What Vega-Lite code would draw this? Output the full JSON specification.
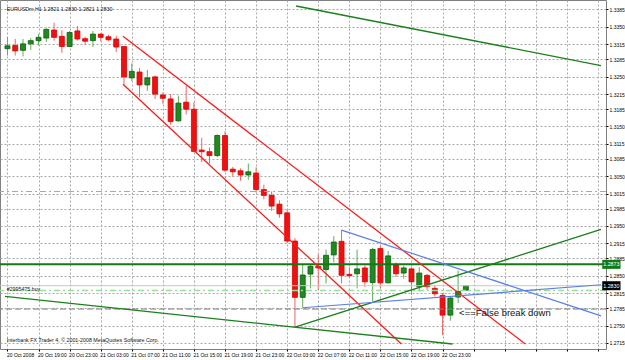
{
  "$schema": "https://vega.github.io/schema/vega-lite/v6.json",
  "width": 606,
  "height": 349,
  "autosize": {"type": "none"},
  "padding": {"left": 0, "top": 0, "right": 19, "bottom": 11},
  "background": "white",
  "config": {
    "view": {"stroke": "#808080", "strokeWidth": 1},
    "font": "Liberation Sans"
  },
  "datasets": {
    "candles": [
      {"i":0,"o":1.33062,"h":1.33296,"l":1.32925,"c":1.33120},
      {"i":1,"o":1.33126,"h":1.33257,"l":1.32925,"c":1.33017},
      {"i":2,"o":1.33029,"h":1.33257,"l":1.32906,"c":1.33159},
      {"i":3,"o":1.33159,"h":1.33276,"l":1.33042,"c":1.33224},
      {"i":4,"o":1.33224,"h":1.33355,"l":1.33126,"c":1.33290},
      {"i":5,"o":1.33276,"h":1.33470,"l":1.33198,"c":1.33452},
      {"i":6,"o":1.33438,"h":1.33583,"l":1.33224,"c":1.33290},
      {"i":7,"o":1.33310,"h":1.33433,"l":1.32978,"c":1.33107},
      {"i":8,"o":1.33107,"h":1.33419,"l":1.33095,"c":1.33388},
      {"i":9,"o":1.33419,"h":1.33517,"l":1.33224,"c":1.33257},
      {"i":10,"o":1.33263,"h":1.33302,"l":1.33146,"c":1.33212},
      {"i":11,"o":1.33224,"h":1.33419,"l":1.33095,"c":1.33355},
      {"i":12,"o":1.33355,"h":1.33368,"l":1.33212,"c":1.33290},
      {"i":13,"o":1.33302,"h":1.33341,"l":1.33212,"c":1.33243},
      {"i":14,"o":1.33257,"h":1.33321,"l":1.32997,"c":1.33095},
      {"i":15,"o":1.33107,"h":1.33107,"l":1.32346,"c":1.32496},
      {"i":16,"o":1.32476,"h":1.32769,"l":1.32412,"c":1.32607},
      {"i":17,"o":1.32593,"h":1.32671,"l":1.32086,"c":1.32334},
      {"i":18,"o":1.32334,"h":1.32638,"l":1.32217,"c":1.32476},
      {"i":19,"o":1.32496,"h":1.32521,"l":1.32053,"c":1.32150},
      {"i":20,"o":1.32131,"h":1.32184,"l":1.31955,"c":1.32066},
      {"i":21,"o":1.32053,"h":1.32150,"l":1.31534,"c":1.31598},
      {"i":22,"o":1.31612,"h":1.32119,"l":1.31598,"c":1.31969},
      {"i":23,"o":1.31988,"h":1.32314,"l":1.31741,"c":1.31846},
      {"i":24,"o":1.31846,"h":1.31988,"l":1.30979,"c":1.30999},
      {"i":25,"o":1.31026,"h":1.31272,"l":1.30784,"c":1.30993},
      {"i":26,"o":1.30993,"h":1.31077,"l":1.30753,"c":1.30915},
      {"i":27,"o":1.30915,"h":1.31339,"l":1.30882,"c":1.31319},
      {"i":28,"o":1.31319,"h":1.31403,"l":1.30589,"c":1.30622},
      {"i":29,"o":1.30642,"h":1.30687,"l":1.30492,"c":1.30589},
      {"i":30,"o":1.30609,"h":1.30656,"l":1.30408,"c":1.30525},
      {"i":31,"o":1.30525,"h":1.30753,"l":1.30427,"c":1.30589},
      {"i":32,"o":1.30564,"h":1.30681,"l":1.30173,"c":1.30232},
      {"i":33,"o":1.30232,"h":1.30330,"l":1.30037,"c":1.30115},
      {"i":34,"o":1.30115,"h":1.30193,"l":1.29803,"c":1.29900},
      {"i":35,"o":1.29939,"h":1.30017,"l":1.29666,"c":1.29744},
      {"i":36,"o":1.29764,"h":1.29822,"l":1.29159,"c":1.29198},
      {"i":37,"o":1.29198,"h":1.29256,"l":1.27467,"c":1.28066},
      {"i":38,"o":1.28066,"h":1.28735,"l":1.27857,"c":1.28515},
      {"i":39,"o":1.28534,"h":1.28735,"l":1.28247,"c":1.28690},
      {"i":40,"o":1.28690,"h":1.28930,"l":1.28216,"c":1.28657},
      {"i":41,"o":1.28626,"h":1.29028,"l":1.28345,"c":1.28911},
      {"i":42,"o":1.28919,"h":1.29295,"l":1.28768,"c":1.29178},
      {"i":43,"o":1.29192,"h":1.29418,"l":1.28345,"c":1.28509},
      {"i":44,"o":1.28528,"h":1.28671,"l":1.28476,"c":1.28501},
      {"i":45,"o":1.28540,"h":1.29028,"l":1.28247,"c":1.28638},
      {"i":46,"o":1.28657,"h":1.28710,"l":1.28280,"c":1.28378},
      {"i":47,"o":1.28364,"h":1.29061,"l":1.27988,"c":1.29028},
      {"i":48,"o":1.29047,"h":1.29094,"l":1.28247,"c":1.28358},
      {"i":49,"o":1.28358,"h":1.28997,"l":1.28345,"c":1.28899},
      {"i":50,"o":1.28723,"h":1.28768,"l":1.28476,"c":1.28540},
      {"i":51,"o":1.28554,"h":1.28704,"l":1.28442,"c":1.28657},
      {"i":52,"o":1.28638,"h":1.28671,"l":1.28118,"c":1.28378},
      {"i":53,"o":1.28280,"h":1.28671,"l":1.28183,"c":1.28554},
      {"i":54,"o":1.28509,"h":1.28540,"l":1.28216,"c":1.28280},
      {"i":55,"o":1.28247,"h":1.28314,"l":1.28085,"c":1.28138},
      {"i":56,"o":1.28105,"h":1.28150,"l":1.27305,"c":1.27709},
      {"i":57,"o":1.27709,"h":1.28085,"l":1.27597,"c":1.28052},
      {"i":58,"o":1.28072,"h":1.28606,"l":1.27954,"c":1.28183},
      {"i":59,"o":1.28210,"h":1.28300,"l":1.28210,"c":1.28300}
    ],
    "redlines": [
      {"i1":14.87,"p1":1.33310,"i2":66.65,"p2":1.27129},
      {"i1":14.87,"p1":1.32346,"i2":50.7,"p2":1.27129}
    ],
    "greenlines": [
      {"i1":37.15,"p1":1.33920,"i2":76.39,"p2":1.32724},
      {"i1":37.0,"p1":1.27467,"i2":76.39,"p2":1.29432},
      {"i1":-0.316,"p1":1.28085,"i2":57.28,"p2":1.27129}
    ],
    "bluelines": [
      {"i1":43,"p1":1.29418,"i2":76.39,"p2":1.27695},
      {"i1":38,"p1":1.27857,"i2":76.39,"p2":1.28319}
    ]
  },
  "layer": [
    {
      "data": {"name": "candles"},
      "mark": {"type": "rule", "strokeWidth": 1},
      "encoding": {
        "x": {"field": "i", "type": "quantitative", "title": null, "scale": {"domain": [-0.316, 76.39], "nice": false, "zero": false},
          "axis": {"orient": "bottom", "values": [0,4,8,12,16,20,24,28,32,36,40,44,48,52,56,60,64,68,72,76], "labelExpr": "datum.value <= 56 ? ['20 Oct 2008','20 Oct 19:00','20 Oct 23:00','21 Oct 03:00','21 Oct 07:00','21 Oct 11:00','21 Oct 15:00','21 Oct 19:00','21 Oct 23:00','22 Oct 03:00','22 Oct 07:00','22 Oct 11:00','22 Oct 15:00','22 Oct 19:00','22 Oct 23:00'][round(datum.value/4)] : ''", "labelAlign": "left", "labelOffset": -1, "labelFontSize": 5, "labelColor": "#000", "labelPadding": 1, "tickSize": 2, "tickColor": "#000", "grid": true, "gridColor": "#a8a8a8", "gridDash": [2, 2], "domain": false, "title": null, "labelOverlap": false, "labelBound": false, "labelFlush": false}},
        "y": {"field": "h", "type": "quantitative", "title": null, "scale": {"domain": [1.27129, 1.3394], "nice": false, "zero": false},
          "axis": {"orient": "right", "values": [1.2715,1.2750,1.2785,1.2815,1.2850,1.2885,1.2915,1.2950,1.2985,1.3015,1.3050,1.3085,1.3115,1.3150,1.3185,1.3215,1.3250,1.3285,1.3315,1.3350,1.3385], "format": ".4f", "labelFontSize": 5, "labelColor": "#000", "labelPadding": 1, "tickSize": 2, "tickColor": "#000", "grid": true, "gridColor": "#a8a8a8", "gridDash": [2, 2], "domain": false, "title": null, "labelOverlap": false, "labelBound": false, "labelFlush": false}},
        "y2": {"field": "l"},
        "color": {"condition": {"test": "datum.c >= datum.o", "value": "#5cae5c"}, "value": "#f06464"}
      }
    },
    {
      "data": {"name": "candles"},
      "mark": {"type": "bar", "size": 5, "strokeWidth": 0.8, "orient": "vertical"},
      "encoding": {
        "x": {"field": "i", "type": "quantitative", "title": null, "scale": {"domain": [-0.316, 76.39], "nice": false, "zero": false},
          "axis": {"orient": "bottom", "values": [0,4,8,12,16,20,24,28,32,36,40,44,48,52,56,60,64,68,72,76], "labelExpr": "datum.value <= 56 ? ['20 Oct 2008','20 Oct 19:00','20 Oct 23:00','21 Oct 03:00','21 Oct 07:00','21 Oct 11:00','21 Oct 15:00','21 Oct 19:00','21 Oct 23:00','22 Oct 03:00','22 Oct 07:00','22 Oct 11:00','22 Oct 15:00','22 Oct 19:00','22 Oct 23:00'][round(datum.value/4)] : ''", "labelAlign": "left", "labelOffset": -1, "labelFontSize": 5, "labelColor": "#000", "labelPadding": 1, "tickSize": 2, "tickColor": "#000", "grid": true, "gridColor": "#a8a8a8", "gridDash": [2, 2], "domain": false, "title": null, "labelOverlap": false, "labelBound": false, "labelFlush": false}},
        "y": {"field": "o", "type": "quantitative", "title": null, "scale": {"domain": [1.27129, 1.3394], "nice": false, "zero": false},
          "axis": {"orient": "right", "values": [1.2715,1.2750,1.2785,1.2815,1.2850,1.2885,1.2915,1.2950,1.2985,1.3015,1.3050,1.3085,1.3115,1.3150,1.3185,1.3215,1.3250,1.3285,1.3315,1.3350,1.3385], "format": ".4f", "labelFontSize": 5, "labelColor": "#000", "labelPadding": 1, "tickSize": 2, "tickColor": "#000", "grid": true, "gridColor": "#a8a8a8", "gridDash": [2, 2], "domain": false, "title": null, "labelOverlap": false, "labelBound": false, "labelFlush": false}},
        "y2": {"field": "c"},
        "fill": {"condition": {"test": "datum.c >= datum.o", "value": "#1f8a1f"}, "value": "#ee1111"},
        "stroke": {"condition": {"test": "datum.c >= datum.o", "value": "#0b5e0b"}, "value": "#e00000"}
      }
    },
    {
      "data": {"values": [{"p": 1.30193}]},
      "mark": {"type": "rule", "color": "#a8a8a8", "strokeWidth": 1, "strokeDash": [6, 3, 2, 3]},
      "encoding": {"y": {"field": "p", "type": "quantitative", "title": null, "scale": {"domain": [1.27129, 1.3394], "nice": false, "zero": false},
          "axis": {"orient": "right", "values": [1.2715,1.2750,1.2785,1.2815,1.2850,1.2885,1.2915,1.2950,1.2985,1.3015,1.3050,1.3085,1.3115,1.3150,1.3185,1.3215,1.3250,1.3285,1.3315,1.3350,1.3385], "format": ".4f", "labelFontSize": 5, "labelColor": "#000", "labelPadding": 1, "tickSize": 2, "tickColor": "#000", "grid": true, "gridColor": "#a8a8a8", "gridDash": [2, 2], "domain": false, "title": null, "labelOverlap": false, "labelBound": false, "labelFlush": false}}}
    },
    {
      "data": {"values": [{"p": 1.27831}]},
      "mark": {"type": "rule", "color": "#808080", "strokeWidth": 1, "strokeDash": [6, 3]},
      "encoding": {"y": {"field": "p", "type": "quantitative", "title": null, "scale": {"domain": [1.27129, 1.3394], "nice": false, "zero": false},
          "axis": {"orient": "right", "values": [1.2715,1.2750,1.2785,1.2815,1.2850,1.2885,1.2915,1.2950,1.2985,1.3015,1.3050,1.3085,1.3115,1.3150,1.3185,1.3215,1.3250,1.3285,1.3315,1.3350,1.3385], "format": ".4f", "labelFontSize": 5, "labelColor": "#000", "labelPadding": 1, "tickSize": 2, "tickColor": "#000", "grid": true, "gridColor": "#a8a8a8", "gridDash": [2, 2], "domain": false, "title": null, "labelOverlap": false, "labelBound": false, "labelFlush": false}}}
    },
    {
      "data": {"values": [{"p": 1.2830}]},
      "mark": {"type": "rule", "color": "#c8c8c8", "strokeWidth": 1},
      "encoding": {"y": {"field": "p", "type": "quantitative", "title": null, "scale": {"domain": [1.27129, 1.3394], "nice": false, "zero": false},
          "axis": {"orient": "right", "values": [1.2715,1.2750,1.2785,1.2815,1.2850,1.2885,1.2915,1.2950,1.2985,1.3015,1.3050,1.3085,1.3115,1.3150,1.3185,1.3215,1.3250,1.3285,1.3315,1.3350,1.3385], "format": ".4f", "labelFontSize": 5, "labelColor": "#000", "labelPadding": 1, "tickSize": 2, "tickColor": "#000", "grid": true, "gridColor": "#a8a8a8", "gridDash": [2, 2], "domain": false, "title": null, "labelOverlap": false, "labelBound": false, "labelFlush": false}}}
    },
    {
      "data": {"values": [{"p": 1.28202}]},
      "mark": {"type": "rule", "color": "#98e098", "strokeWidth": 1.5, "strokeDash": [6, 3, 2, 3]},
      "encoding": {"y": {"field": "p", "type": "quantitative", "title": null, "scale": {"domain": [1.27129, 1.3394], "nice": false, "zero": false},
          "axis": {"orient": "right", "values": [1.2715,1.2750,1.2785,1.2815,1.2850,1.2885,1.2915,1.2950,1.2985,1.3015,1.3050,1.3085,1.3115,1.3150,1.3185,1.3215,1.3250,1.3285,1.3315,1.3350,1.3385], "format": ".4f", "labelFontSize": 5, "labelColor": "#000", "labelPadding": 1, "tickSize": 2, "tickColor": "#000", "grid": true, "gridColor": "#a8a8a8", "gridDash": [2, 2], "domain": false, "title": null, "labelOverlap": false, "labelBound": false, "labelFlush": false}}}
    },
    {
      "data": {"values": [{"p": 1.28729}]},
      "mark": {"type": "rule", "color": "#137a13", "strokeWidth": 2},
      "encoding": {"y": {"field": "p", "type": "quantitative", "title": null, "scale": {"domain": [1.27129, 1.3394], "nice": false, "zero": false},
          "axis": {"orient": "right", "values": [1.2715,1.2750,1.2785,1.2815,1.2850,1.2885,1.2915,1.2950,1.2985,1.3015,1.3050,1.3085,1.3115,1.3150,1.3185,1.3215,1.3250,1.3285,1.3315,1.3350,1.3385], "format": ".4f", "labelFontSize": 5, "labelColor": "#000", "labelPadding": 1, "tickSize": 2, "tickColor": "#000", "grid": true, "gridColor": "#a8a8a8", "gridDash": [2, 2], "domain": false, "title": null, "labelOverlap": false, "labelBound": false, "labelFlush": false}}}
    },
    {
      "data": {"name": "redlines"},
      "mark": {"type": "rule", "color": "#ff1a1a", "strokeWidth": 1.3, "clip": true},
      "encoding": {
        "x": {"field": "i1", "type": "quantitative", "title": null, "scale": {"domain": [-0.316, 76.39], "nice": false, "zero": false},
          "axis": {"orient": "bottom", "values": [0,4,8,12,16,20,24,28,32,36,40,44,48,52,56,60,64,68,72,76], "labelExpr": "datum.value <= 56 ? ['20 Oct 2008','20 Oct 19:00','20 Oct 23:00','21 Oct 03:00','21 Oct 07:00','21 Oct 11:00','21 Oct 15:00','21 Oct 19:00','21 Oct 23:00','22 Oct 03:00','22 Oct 07:00','22 Oct 11:00','22 Oct 15:00','22 Oct 19:00','22 Oct 23:00'][round(datum.value/4)] : ''", "labelAlign": "left", "labelOffset": -1, "labelFontSize": 5, "labelColor": "#000", "labelPadding": 1, "tickSize": 2, "tickColor": "#000", "grid": true, "gridColor": "#a8a8a8", "gridDash": [2, 2], "domain": false, "title": null, "labelOverlap": false, "labelBound": false, "labelFlush": false}},
        "x2": {"field": "i2"},
        "y": {"field": "p1", "type": "quantitative", "title": null, "scale": {"domain": [1.27129, 1.3394], "nice": false, "zero": false},
          "axis": {"orient": "right", "values": [1.2715,1.2750,1.2785,1.2815,1.2850,1.2885,1.2915,1.2950,1.2985,1.3015,1.3050,1.3085,1.3115,1.3150,1.3185,1.3215,1.3250,1.3285,1.3315,1.3350,1.3385], "format": ".4f", "labelFontSize": 5, "labelColor": "#000", "labelPadding": 1, "tickSize": 2, "tickColor": "#000", "grid": true, "gridColor": "#a8a8a8", "gridDash": [2, 2], "domain": false, "title": null, "labelOverlap": false, "labelBound": false, "labelFlush": false}},
        "y2": {"field": "p2"}
      }
    },
    {
      "data": {"name": "greenlines"},
      "mark": {"type": "rule", "color": "#1a801a", "strokeWidth": 1.3, "clip": true},
      "encoding": {
        "x": {"field": "i1", "type": "quantitative", "title": null, "scale": {"domain": [-0.316, 76.39], "nice": false, "zero": false},
          "axis": {"orient": "bottom", "values": [0,4,8,12,16,20,24,28,32,36,40,44,48,52,56,60,64,68,72,76], "labelExpr": "datum.value <= 56 ? ['20 Oct 2008','20 Oct 19:00','20 Oct 23:00','21 Oct 03:00','21 Oct 07:00','21 Oct 11:00','21 Oct 15:00','21 Oct 19:00','21 Oct 23:00','22 Oct 03:00','22 Oct 07:00','22 Oct 11:00','22 Oct 15:00','22 Oct 19:00','22 Oct 23:00'][round(datum.value/4)] : ''", "labelAlign": "left", "labelOffset": -1, "labelFontSize": 5, "labelColor": "#000", "labelPadding": 1, "tickSize": 2, "tickColor": "#000", "grid": true, "gridColor": "#a8a8a8", "gridDash": [2, 2], "domain": false, "title": null, "labelOverlap": false, "labelBound": false, "labelFlush": false}},
        "x2": {"field": "i2"},
        "y": {"field": "p1", "type": "quantitative", "title": null, "scale": {"domain": [1.27129, 1.3394], "nice": false, "zero": false},
          "axis": {"orient": "right", "values": [1.2715,1.2750,1.2785,1.2815,1.2850,1.2885,1.2915,1.2950,1.2985,1.3015,1.3050,1.3085,1.3115,1.3150,1.3185,1.3215,1.3250,1.3285,1.3315,1.3350,1.3385], "format": ".4f", "labelFontSize": 5, "labelColor": "#000", "labelPadding": 1, "tickSize": 2, "tickColor": "#000", "grid": true, "gridColor": "#a8a8a8", "gridDash": [2, 2], "domain": false, "title": null, "labelOverlap": false, "labelBound": false, "labelFlush": false}},
        "y2": {"field": "p2"}
      }
    },
    {
      "data": {"name": "bluelines"},
      "mark": {"type": "rule", "color": "#5b7fe6", "strokeWidth": 1.2, "clip": true},
      "encoding": {
        "x": {"field": "i1", "type": "quantitative", "title": null, "scale": {"domain": [-0.316, 76.39], "nice": false, "zero": false},
          "axis": {"orient": "bottom", "values": [0,4,8,12,16,20,24,28,32,36,40,44,48,52,56,60,64,68,72,76], "labelExpr": "datum.value <= 56 ? ['20 Oct 2008','20 Oct 19:00','20 Oct 23:00','21 Oct 03:00','21 Oct 07:00','21 Oct 11:00','21 Oct 15:00','21 Oct 19:00','21 Oct 23:00','22 Oct 03:00','22 Oct 07:00','22 Oct 11:00','22 Oct 15:00','22 Oct 19:00','22 Oct 23:00'][round(datum.value/4)] : ''", "labelAlign": "left", "labelOffset": -1, "labelFontSize": 5, "labelColor": "#000", "labelPadding": 1, "tickSize": 2, "tickColor": "#000", "grid": true, "gridColor": "#a8a8a8", "gridDash": [2, 2], "domain": false, "title": null, "labelOverlap": false, "labelBound": false, "labelFlush": false}},
        "x2": {"field": "i2"},
        "y": {"field": "p1", "type": "quantitative", "title": null, "scale": {"domain": [1.27129, 1.3394], "nice": false, "zero": false},
          "axis": {"orient": "right", "values": [1.2715,1.2750,1.2785,1.2815,1.2850,1.2885,1.2915,1.2950,1.2985,1.3015,1.3050,1.3085,1.3115,1.3150,1.3185,1.3215,1.3250,1.3285,1.3315,1.3350,1.3385], "format": ".4f", "labelFontSize": 5, "labelColor": "#000", "labelPadding": 1, "tickSize": 2, "tickColor": "#000", "grid": true, "gridColor": "#a8a8a8", "gridDash": [2, 2], "domain": false, "title": null, "labelOverlap": false, "labelBound": false, "labelFlush": false}},
        "y2": {"field": "p2"}
      }
    },
    {
      "data": {"values": [
        {"i": -0.1, "p": 1.33852, "label": "EURUSDm,H1  1.2821 1.2830 1.2821 1.2830"},
        {"i": -0.1, "p": 1.28225, "label": "#2995475 buy"},
        {"i": -0.1, "p": 1.27205, "label": "Interbank FX Trader 4, © 2001-2008 MetaQuotes Software Corp."}
      ]},
      "mark": {"type": "text", "align": "left", "baseline": "middle", "fontSize": 5.3, "color": "#111"},
      "encoding": {
        "x": {"field": "i", "type": "quantitative", "title": null, "scale": {"domain": [-0.316, 76.39], "nice": false, "zero": false},
          "axis": {"orient": "bottom", "values": [0,4,8,12,16,20,24,28,32,36,40,44,48,52,56,60,64,68,72,76], "labelExpr": "datum.value <= 56 ? ['20 Oct 2008','20 Oct 19:00','20 Oct 23:00','21 Oct 03:00','21 Oct 07:00','21 Oct 11:00','21 Oct 15:00','21 Oct 19:00','21 Oct 23:00','22 Oct 03:00','22 Oct 07:00','22 Oct 11:00','22 Oct 15:00','22 Oct 19:00','22 Oct 23:00'][round(datum.value/4)] : ''", "labelAlign": "left", "labelOffset": -1, "labelFontSize": 5, "labelColor": "#000", "labelPadding": 1, "tickSize": 2, "tickColor": "#000", "grid": true, "gridColor": "#a8a8a8", "gridDash": [2, 2], "domain": false, "title": null, "labelOverlap": false, "labelBound": false, "labelFlush": false}},
        "y": {"field": "p", "type": "quantitative", "title": null, "scale": {"domain": [1.27129, 1.3394], "nice": false, "zero": false},
          "axis": {"orient": "right", "values": [1.2715,1.2750,1.2785,1.2815,1.2850,1.2885,1.2915,1.2950,1.2985,1.3015,1.3050,1.3085,1.3115,1.3150,1.3185,1.3215,1.3250,1.3285,1.3315,1.3350,1.3385], "format": ".4f", "labelFontSize": 5, "labelColor": "#000", "labelPadding": 1, "tickSize": 2, "tickColor": "#000", "grid": true, "gridColor": "#a8a8a8", "gridDash": [2, 2], "domain": false, "title": null, "labelOverlap": false, "labelBound": false, "labelFlush": false}},
        "text": {"field": "label"}
      }
    },
    {
      "data": {"values": [{"i": 58.13, "p": 1.27753, "label": "<==False break down"}]},
      "mark": {"type": "text", "align": "left", "baseline": "middle", "fontSize": 9.5, "color": "#111"},
      "encoding": {
        "x": {"field": "i", "type": "quantitative", "title": null, "scale": {"domain": [-0.316, 76.39], "nice": false, "zero": false},
          "axis": {"orient": "bottom", "values": [0,4,8,12,16,20,24,28,32,36,40,44,48,52,56,60,64,68,72,76], "labelExpr": "datum.value <= 56 ? ['20 Oct 2008','20 Oct 19:00','20 Oct 23:00','21 Oct 03:00','21 Oct 07:00','21 Oct 11:00','21 Oct 15:00','21 Oct 19:00','21 Oct 23:00','22 Oct 03:00','22 Oct 07:00','22 Oct 11:00','22 Oct 15:00','22 Oct 19:00','22 Oct 23:00'][round(datum.value/4)] : ''", "labelAlign": "left", "labelOffset": -1, "labelFontSize": 5, "labelColor": "#000", "labelPadding": 1, "tickSize": 2, "tickColor": "#000", "grid": true, "gridColor": "#a8a8a8", "gridDash": [2, 2], "domain": false, "title": null, "labelOverlap": false, "labelBound": false, "labelFlush": false}},
        "y": {"field": "p", "type": "quantitative", "title": null, "scale": {"domain": [1.27129, 1.3394], "nice": false, "zero": false},
          "axis": {"orient": "right", "values": [1.2715,1.2750,1.2785,1.2815,1.2850,1.2885,1.2915,1.2950,1.2985,1.3015,1.3050,1.3085,1.3115,1.3150,1.3185,1.3215,1.3250,1.3285,1.3315,1.3350,1.3385], "format": ".4f", "labelFontSize": 5, "labelColor": "#000", "labelPadding": 1, "tickSize": 2, "tickColor": "#000", "grid": true, "gridColor": "#a8a8a8", "gridDash": [2, 2], "domain": false, "title": null, "labelOverlap": false, "labelBound": false, "labelFlush": false}},
        "text": {"field": "label"}
      }
    },
    {
      "data": {"values": [{"i": 76.55, "i2": 78.9, "p": 1.28729, "box": "g"}, {"i": 76.55, "i2": 78.9, "p": 1.2830, "box": "k"}]},
      "mark": {"type": "bar", "orient": "horizontal", "size": 9},
      "encoding": {
        "x": {"field": "i", "type": "quantitative", "title": null, "scale": {"domain": [-0.316, 76.39], "nice": false, "zero": false},
          "axis": {"orient": "bottom", "values": [0,4,8,12,16,20,24,28,32,36,40,44,48,52,56,60,64,68,72,76], "labelExpr": "datum.value <= 56 ? ['20 Oct 2008','20 Oct 19:00','20 Oct 23:00','21 Oct 03:00','21 Oct 07:00','21 Oct 11:00','21 Oct 15:00','21 Oct 19:00','21 Oct 23:00','22 Oct 03:00','22 Oct 07:00','22 Oct 11:00','22 Oct 15:00','22 Oct 19:00','22 Oct 23:00'][round(datum.value/4)] : ''", "labelAlign": "left", "labelOffset": -1, "labelFontSize": 5, "labelColor": "#000", "labelPadding": 1, "tickSize": 2, "tickColor": "#000", "grid": true, "gridColor": "#a8a8a8", "gridDash": [2, 2], "domain": false, "title": null, "labelOverlap": false, "labelBound": false, "labelFlush": false}},
        "x2": {"field": "i2"},
        "y": {"field": "p", "type": "quantitative", "title": null, "scale": {"domain": [1.27129, 1.3394], "nice": false, "zero": false},
          "axis": {"orient": "right", "values": [1.2715,1.2750,1.2785,1.2815,1.2850,1.2885,1.2915,1.2950,1.2985,1.3015,1.3050,1.3085,1.3115,1.3150,1.3185,1.3215,1.3250,1.3285,1.3315,1.3350,1.3385], "format": ".4f", "labelFontSize": 5, "labelColor": "#000", "labelPadding": 1, "tickSize": 2, "tickColor": "#000", "grid": true, "gridColor": "#a8a8a8", "gridDash": [2, 2], "domain": false, "title": null, "labelOverlap": false, "labelBound": false, "labelFlush": false}},
        "color": {"field": "box", "type": "nominal", "scale": {"domain": ["g", "k"], "range": ["#137a13", "#000000"]}, "legend": null}
      }
    },
    {
      "data": {"values": [{"i": 77.72, "p": 1.28729, "label": "1.2873"}, {"i": 77.72, "p": 1.2830, "label": "1.2830"}]},
      "mark": {"type": "text", "align": "center", "baseline": "middle", "fontSize": 5.3, "color": "#ffffff"},
      "encoding": {
        "x": {"field": "i", "type": "quantitative", "title": null, "scale": {"domain": [-0.316, 76.39], "nice": false, "zero": false},
          "axis": {"orient": "bottom", "values": [0,4,8,12,16,20,24,28,32,36,40,44,48,52,56,60,64,68,72,76], "labelExpr": "datum.value <= 56 ? ['20 Oct 2008','20 Oct 19:00','20 Oct 23:00','21 Oct 03:00','21 Oct 07:00','21 Oct 11:00','21 Oct 15:00','21 Oct 19:00','21 Oct 23:00','22 Oct 03:00','22 Oct 07:00','22 Oct 11:00','22 Oct 15:00','22 Oct 19:00','22 Oct 23:00'][round(datum.value/4)] : ''", "labelAlign": "left", "labelOffset": -1, "labelFontSize": 5, "labelColor": "#000", "labelPadding": 1, "tickSize": 2, "tickColor": "#000", "grid": true, "gridColor": "#a8a8a8", "gridDash": [2, 2], "domain": false, "title": null, "labelOverlap": false, "labelBound": false, "labelFlush": false}},
        "y": {"field": "p", "type": "quantitative", "title": null, "scale": {"domain": [1.27129, 1.3394], "nice": false, "zero": false},
          "axis": {"orient": "right", "values": [1.2715,1.2750,1.2785,1.2815,1.2850,1.2885,1.2915,1.2950,1.2985,1.3015,1.3050,1.3085,1.3115,1.3150,1.3185,1.3215,1.3250,1.3285,1.3315,1.3350,1.3385], "format": ".4f", "labelFontSize": 5, "labelColor": "#000", "labelPadding": 1, "tickSize": 2, "tickColor": "#000", "grid": true, "gridColor": "#a8a8a8", "gridDash": [2, 2], "domain": false, "title": null, "labelOverlap": false, "labelBound": false, "labelFlush": false}},
        "text": {"field": "label"}
      }
    }
  ]
}
